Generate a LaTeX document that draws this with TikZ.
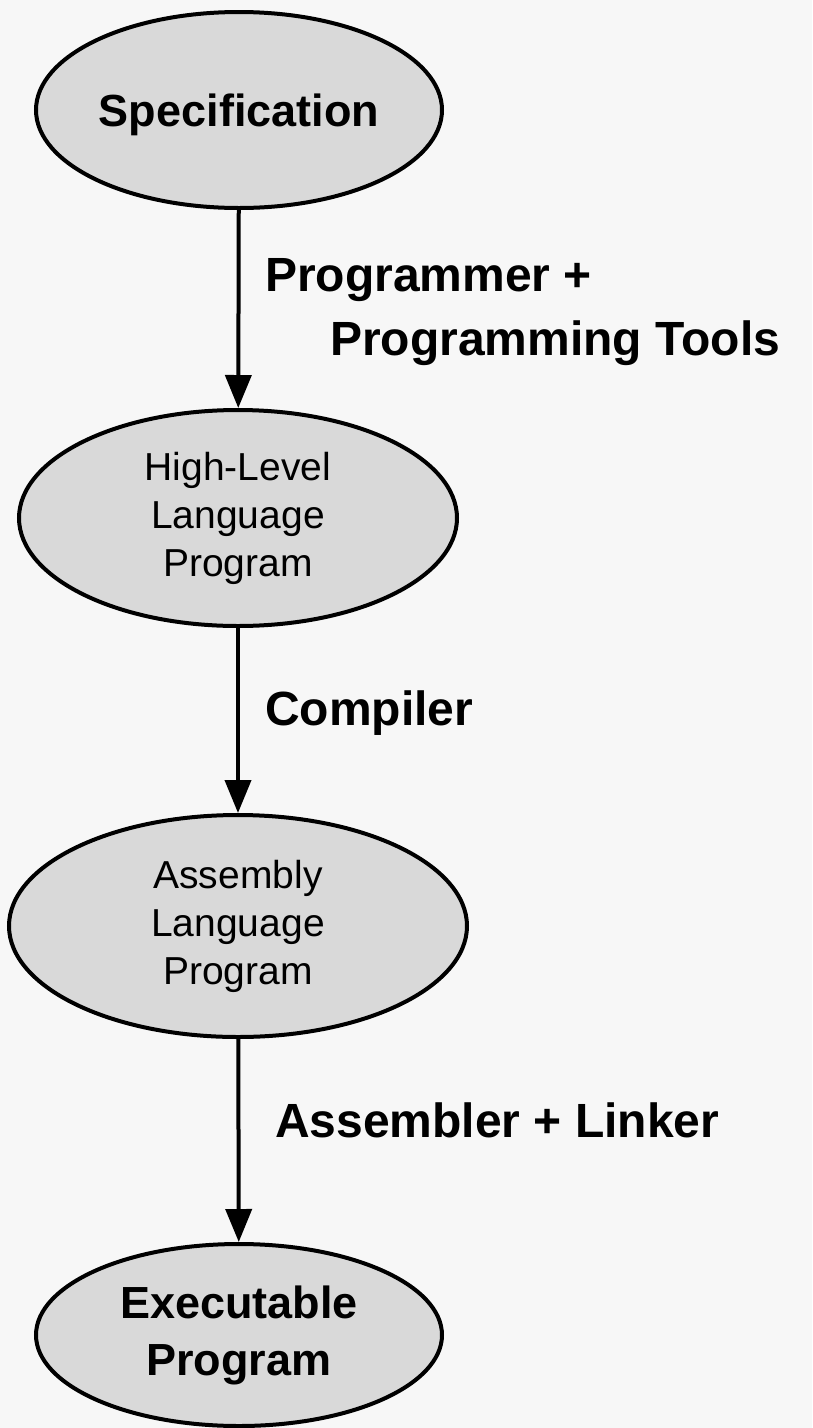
\documentclass[tikz,border=0pt]{standalone}
\usepackage{fontspec}
\setmainfont{Liberation Sans}
\usetikzlibrary{shapes.geometric,arrows.meta}
\definecolor{bg}{HTML}{F7F7F7}
\definecolor{ellfill}{HTML}{D9D9D9}
\begin{document}
\begin{tikzpicture}[x=1pt,y=-1pt,
  stage/.style={ellipse, draw=black, line width=4pt, fill=ellfill, inner sep=0pt, align=center},
  flow/.style={-{Triangle[width=26pt,length=33pt]}, line width=4pt},
  lbl/.style={anchor=base west, inner sep=0pt, font=\fontsize{48}{56}\selectfont\bfseries},
  bigtxt/.style={font=\fontsize{45}{57}\selectfont\bfseries},
  smalltxt/.style={font=\fontsize{39}{48}\selectfont}]
\fill[bg] (0,0) rectangle (812,1428);
\useasboundingbox (0,0) rectangle (812,1428);
\node[stage,bigtxt,minimum width=406pt,minimum height=196pt,text depth=0pt] (spec) at (239,110) {Specification};
\node[stage,smalltxt,minimum width=438pt,minimum height=216pt] (hl) at (238,518) {High-Level\\Language\\Program};
\node[stage,smalltxt,minimum width=458pt,minimum height=222pt] (asm) at (238,926) {Assembly\\Language\\Program};
\node[stage,bigtxt,minimum width=406pt,minimum height=182pt] (exe) at (239,1335) {Executable\\Program};
\draw[flow] (spec) -- (hl);
\draw[flow] (hl) -- (asm);
\draw[flow] (asm) -- (exe);
\node[lbl] (l1) at (265,291) {Programmer +};
\node[lbl] (l2) at (330,355) {Programming Tools};
\node[lbl] (l3) at (265,725) {Compiler};
\node[lbl] (l4) at (275,1137) {Assembler + Linker};
\end{tikzpicture}
\end{document}
